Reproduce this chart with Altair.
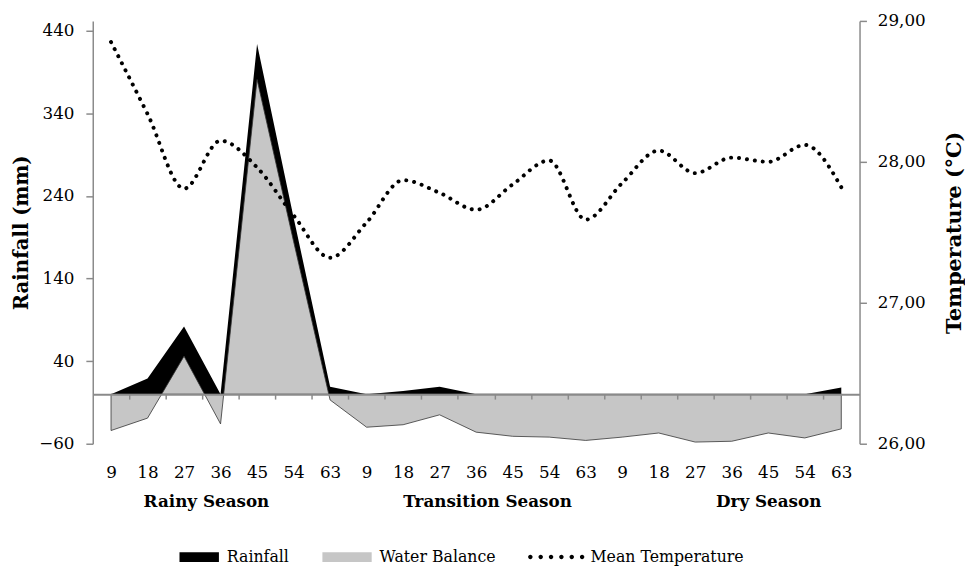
import altair as alt
import pandas as pd

# ---------------- data ----------------
days = [9, 18, 27, 36, 45, 54, 63]
seasons = ["Rainy Season", "Transition Season", "Dry Season"]
day_labels = [str(d) for d in days] * len(seasons)

rainfall = [0, 19, 82, 0, 424, 214, 9,
            0, 4, 9, 0, 0, 0, 0,
            0, 0, 0, 0, 0, 0, 8]
water_balance = [-44, -29, 46, -36, 381, 185, -7,
                 -40, -37, -25, -46, -51, -52, -56,
                 -52, -47, -58, -57, -47, -53, -42]
temperature = [28.85, 28.34, 27.81, 28.15, 27.96, 27.62, 27.32,
               27.57, 27.87, 27.78, 27.66, 27.84, 28.01, 27.59,
               27.85, 28.08, 27.92, 28.03, 28.00, 28.12, 27.82]

season_label_pos = [2.6, 10.3, 18.0]
rain_ticks = [-60, 40, 140, 240, 340, 440]
rain_domain = [-60, 452]
temp_ticks = [26, 27, 28, 29]
temp_domain = [26, 29]
series_names = ["Rainfall", "Water Balance", "Mean Temperature"]

# ---------------- layout / style ----------------
W, H = 778, 429
FONT = "DejaVu Serif"
GRAY = "#8a8a8a"
WB_FILL = "#c6c6c6"

n = len(day_labels)
df = pd.DataFrame({
    "idx": list(range(n)),
    "rain": rainfall,
    "wb": water_balance,
    "temp": temperature,
})

xscale = alt.Scale(domain=[-0.5, n - 0.5], nice=False, zero=False)
yscale_left = alt.Scale(domain=rain_domain, nice=False, zero=False)
yscale_right = alt.Scale(domain=temp_domain, nice=False, zero=False)

label_arr = "[" + ",".join("'" + s + "'" for s in day_labels) + "]"
day_axis = alt.Axis(
    orient="bottom", values=list(range(n)), labelExpr=label_arr + "[datum.value]",
    domain=False, ticks=False, tickSize=0, grid=False, labelPadding=21,
    labelFont=FONT, labelFontSize=17, labelColor="black", labelOverlap=False,
    labelFlush=False, title=None,
)

season_expr = (
    "datum.value < " + str((season_label_pos[0] + season_label_pos[1]) / 2)
    + " ? '" + seasons[0] + "' : datum.value < "
    + str((season_label_pos[1] + season_label_pos[2]) / 2)
    + " ? '" + seasons[1] + "' : '" + seasons[2] + "'"
)
season_axis = alt.Axis(
    orient="bottom", values=season_label_pos, labelExpr=season_expr,
    domain=False, ticks=False, tickSize=0, grid=False, labelPadding=51,
    labelFont=FONT, labelFontSize=17, labelFontWeight="bold", labelColor="black",
    labelOverlap=False, labelFlush=False, labelLimit=0, title=None,
)

zero_offset = -H * (0 - rain_domain[0]) / (rain_domain[1] - rain_domain[0])
zero_axis = alt.Axis(
    orient="bottom", offset=zero_offset, values=[i + 0.5 for i in range(n - 1)],
    labels=False, domain=True, domainColor=GRAY, domainWidth=2,
    ticks=True, tickColor=GRAY, tickWidth=1.5, tickSize=5, grid=False,
    title=None, zindex=1,
)

left_axis = alt.Axis(
    orient="left", values=rain_ticks, grid=False,
    domainColor=GRAY, domainWidth=1.5, tickColor=GRAY, tickWidth=1.5, tickSize=7,
    labelPadding=12, labelFont=FONT, labelFontSize=17, labelColor="black",
    title="Rainfall (mm)", titleFont=FONT, titleFontSize=20, titleFontWeight="bold",
    titleColor="black", titlePadding=7,
)
right_axis = alt.Axis(
    orient="right", values=temp_ticks, grid=False,
    labelExpr="replace(format(datum.value, '.2f'), '.', ',')",
    domainColor=GRAY, domainWidth=1.5, tickColor=GRAY, tickWidth=1.5, tickSize=7,
    labelPadding=11, labelFont=FONT, labelFontSize=17, labelColor="black",
    title="Temperature (°C)", titleFont=FONT, titleFontSize=21, titleFontWeight="bold",
    titleColor="black", titlePadding=19, titleAngle=270, titleBaseline="top",
)

rain = alt.Chart(df).mark_area(color="black", interpolate="linear").encode(
    x=alt.X("idx:Q", scale=xscale, axis=day_axis),
    y=alt.Y("rain:Q", scale=yscale_left, axis=left_axis),
    y2=alt.datum(0),
)

wb = alt.Chart(df).mark_area(
    fill=WB_FILL, stroke="#333333", strokeWidth=0.8, interpolate="linear"
).encode(
    x=alt.X("idx:Q", scale=xscale, axis=season_axis),
    y=alt.Y("wb:Q", scale=yscale_left, axis=left_axis),
    y2=alt.datum(0),
)

# legend symbols (custom paths), drawn only in the legend
dot_centers = [-9.6, -7.5, -5.4, -3.3, -1.2, 0.9]
r = 0.45
dots_path = " ".join(
    f"M{c - r},0A{r},{r} 0 1,0 {c + r},0A{r},{r} 0 1,0 {c - r},0Z" for c in dot_centers
)
paths = ["M-7,-1H1V1H-7Z", "M-9,-1H1V1H-9Z", dots_path]

leg = alt.Legend(
    orient="none", legendX=115, legendY=536, direction="horizontal", columns=3,
    title=None, symbolSize=100, symbolStrokeColor="black", symbolStrokeWidth=0.8,
    symbolOpacity=1, labelFont=FONT, labelFontSize=16, labelColor="black",
    labelOffset=5, columnPadding=31, padding=0, labelLimit=0,
)

legend_df = pd.DataFrame({
    "series": series_names,
    "idx": [float("nan")] * len(series_names),
    "val": [float("nan")] * len(series_names),
})
legend_layer = alt.Chart(legend_df).mark_point(filled=True, opacity=1).encode(
    x=alt.X("idx:Q", scale=xscale, axis=zero_axis),
    y=alt.Y("val:Q", scale=yscale_left, axis=left_axis),
    color=alt.Color("series:N", scale=alt.Scale(domain=series_names,
                    range=["black", WB_FILL, "black"]), legend=leg),
    shape=alt.Shape("series:N", scale=alt.Scale(domain=series_names, range=paths),
                    legend=leg),
)

left = alt.layer(rain, wb, legend_layer).resolve_axis(x="independent")

temp = alt.Chart(df).mark_line(
    color="black", strokeWidth=4, strokeDash=[0.1, 8], strokeCap="round",
    interpolate="monotone",
).encode(
    x=alt.X("idx:Q", scale=xscale, axis=None),
    y=alt.Y("temp:Q", scale=yscale_right, axis=right_axis),
)

chart = alt.layer(left, temp).resolve_scale(y="independent").resolve_axis(
    x="independent", y="independent"
).properties(
    width=W, height=H,
    padding={"left": 4, "top": 0, "right": 0, "bottom": 0},
    background="white",
).configure_view(stroke=None)

chart.save("out.html", embed_options={"renderer": "svg", "actions": False})
